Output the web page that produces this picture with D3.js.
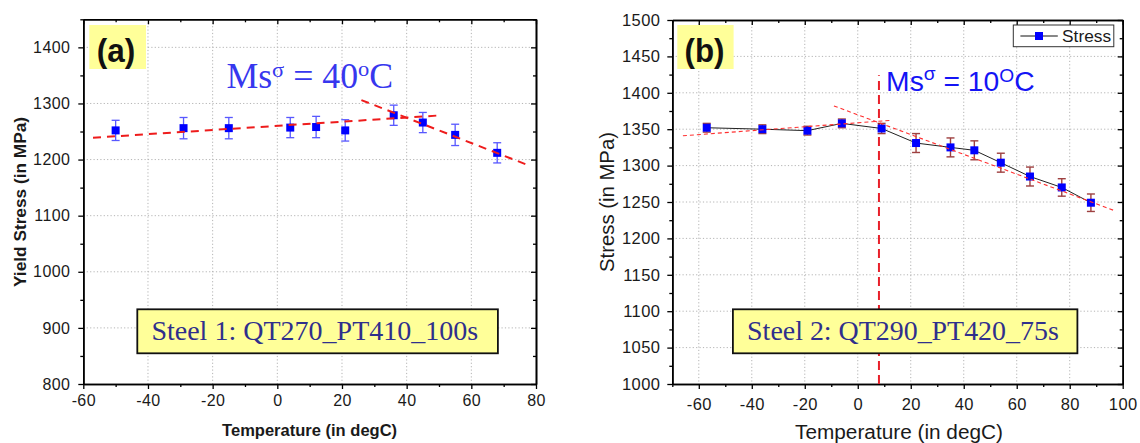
<!DOCTYPE html>
<html>
<head>
<meta charset="utf-8">
<script src="https://cdn.jsdelivr.net/npm/d3@7"></script>
<style>
  body { margin: 0; background: #fff; }
  svg { display: block; }
</style>
</head>
<body>
<svg id="fig" width="1140" height="443"></svg>
<script>
// ---- Panel (a): Steel 1, QT270_PT410_100s ----
const tempA   = [-50, -29, -15, 4, 12, 21, 36, 45, 55, 68];
const stressA = [1252, 1256, 1256, 1257, 1258, 1252, 1279, 1266, 1244, 1212];
const errA    = [18, 19, 19, 18, 19, 19, 18, 18, 19, 18];
// two linear trends meeting near Ms
const fitA1T = [-57, 51],  fitA1S = [1239, 1279];
const fitA2T = [26, 78],   fitA2S = [1306, 1189];
const xTicksA = [-60, -40, -20, 0, 20, 40, 60, 80];
const xMinorA = [-50, -30, -10, 10, 30, 50, 70];
const yTicksA = [800, 900, 1000, 1100, 1200, 1300, 1400];
const yMinorA = [850, 950, 1050, 1150, 1250, 1350, 1450];

// ---- Panel (b): Steel 2, QT290_PT420_75s ----
const tempB   = [-57, -36, -19, -6, 9, 22, 35, 44, 54, 65, 77, 88];
const stressB = [1352, 1350, 1348, 1358, 1351, 1331, 1325, 1321, 1304, 1285, 1270, 1249];
const errB    = [6, 6, 6, 6, 7, 13, 13, 13, 13, 13, 12, 12];
const fitB1T = [-66, 12],  fitB1S = [1341, 1362];
const fitB2T = [-9, 97],   fitB2S = [1382, 1238];
const msB = 8, msLineS = [1000, 1424];
const xTicksB = [-60, -40, -20, 0, 20, 40, 60, 80, 100];
const xMinorB = [-70, -50, -30, -10, 10, 30, 50, 70, 90];
const yTicksB = [1000, 1050, 1100, 1150, 1200, 1250, 1300, 1350, 1400, 1450, 1500];
const yMinorB = [1025, 1075, 1125, 1175, 1225, 1275, 1325, 1375, 1425, 1475];

const svg = d3.select("#fig");
const SANS = "'Liberation Sans', Arial, sans-serif";
const SERIF = "'Liberation Serif', 'Times New Roman', serif";
const plain = d => String(d);   // "-60", "1400": hyphen minus, no grouping

// stretch a text element horizontally so that it spans `width` px from x
function fitText(sel, x, baseline, width) {
  sel.attr("transform", `translate(${x},${baseline})`);
  const w = sel.node().getBBox().width;
  sel.attr("transform", `translate(${x},${baseline}) scale(${width / w},1)`);
}

function makePanel(p) {
  const x = d3.scaleLinear().domain(p.xDomain).range([p.left, p.right]);
  const y = d3.scaleLinear().domain(p.yDomain).range([p.bottom, p.top]);
  const g = svg.append("g");

  // dotted grid at major ticks
  const grid = g.append("g").attr("stroke", "#b4b4b4").attr("stroke-width", 1)
    .attr("stroke-dasharray", "1.2,2.2");
  grid.selectAll(".gx").data(p.xTicks.filter(t => t > p.xDomain[0] && t < p.xDomain[1]))
    .join("line").attr("x1", d => x(d)).attr("x2", d => x(d))
    .attr("y1", p.top).attr("y2", p.bottom);
  grid.selectAll(".gy").data(p.yTicks.filter(t => t > p.yDomain[0] && t < p.yDomain[1]))
    .join("line").attr("y1", d => y(d)).attr("y2", d => y(d))
    .attr("x1", p.left).attr("x2", p.right);

  // axes: ticks outward on bottom/left, inward on top/right
  const styleAxis = a => {
    a.select(".domain").attr("stroke", "#000").attr("stroke-width", 1.6);
    a.selectAll(".tick line").attr("stroke", "#000").attr("stroke-width", 1.3);
    a.selectAll(".tick text").attr("fill", "#1a1a1a")
      .attr("font-family", SANS).attr("font-size", p.tickFont)
      .attr("letter-spacing", "0.4px");
  };
  const ax = [
    [d3.axisBottom(x).tickValues(p.xTicks).tickFormat(plain).tickSize(5).tickPadding(p.xPad), `0,${p.bottom}`],
    [d3.axisBottom(x).tickValues(p.xMinor).tickSize(3).tickFormat(""), `0,${p.bottom}`],
    [d3.axisTop(x).tickValues(p.xTicks).tickSize(-5).tickFormat(""), `0,${p.top}`],
    [d3.axisTop(x).tickValues(p.xMinor).tickSize(-3).tickFormat(""), `0,${p.top}`],
    [d3.axisLeft(y).tickValues(p.yTicks).tickFormat(plain).tickSize(5).tickPadding(p.yPad), `${p.left},0`],
    [d3.axisLeft(y).tickValues(p.yMinor).tickSize(3).tickFormat(""), `${p.left},0`],
    [d3.axisRight(y).tickValues(p.yTicks).tickSize(-5).tickFormat(""), `${p.right},0`],
    [d3.axisRight(y).tickValues(p.yMinor).tickSize(-3).tickFormat(""), `${p.right},0`]
  ];
  ax.forEach(([a, tr]) => {
    g.append("g").attr("transform", `translate(${tr})`)
      .call(a.tickSizeOuter(0)).call(styleAxis);
  });
  return { x, y, g };
}

// ================= Panel (a) =================
const A = makePanel({
  xDomain: [-60, 80], yDomain: [800, 1450],
  left: 83.3, right: 536, top: 19.3, bottom: 384,
  xTicks: xTicksA, xMinor: xMinorA, yTicks: yTicksA, yMinor: yMinorA,
  tickFont: 16, xPad: 6, yPad: 8
});
{
  const { x, y, g } = A;
  const pts = tempA.map((t, i) => ({ t, s: stressA[i], e: errA[i] }));
  // error bars
  const eb = g.append("g").attr("stroke", "#3b3bff").attr("stroke-width", 1.3).attr("opacity", 0.85);
  pts.forEach(d => {
    eb.append("line").attr("x1", x(d.t)).attr("x2", x(d.t)).attr("y1", y(d.s - d.e)).attr("y2", y(d.s + d.e));
    eb.append("line").attr("x1", x(d.t) - 4).attr("x2", x(d.t) + 4).attr("y1", y(d.s + d.e)).attr("y2", y(d.s + d.e));
    eb.append("line").attr("x1", x(d.t) - 4).attr("x2", x(d.t) + 4).attr("y1", y(d.s - d.e)).attr("y2", y(d.s - d.e));
  });
  g.append("g").selectAll("rect").data(pts).join("rect")
    .attr("x", d => x(d.t) - 4).attr("y", d => y(d.s) - 4)
    .attr("width", 8).attr("height", 8).attr("fill", "#0000ff");
  // trend lines
  const line = d3.line().x(d => x(d[0])).y(d => y(d[1]));
  [[fitA1T, fitA1S], [fitA2T, fitA2S]].forEach(([T, S]) => {
    g.append("path").attr("d", line(T.map((t, i) => [t, S[i]])))
      .attr("fill", "none").attr("stroke", "#ee1c1c").attr("stroke-width", 2)
      .attr("stroke-dasharray", "8,6");
  });

  // panel tag
  g.append("rect").attr("x", 89.3).attr("y", 25).attr("width", 56.7).attr("height", 44).attr("fill", "#ffff99");
  const tagA = g.append("text").attr("font-family", SANS).attr("font-weight", "bold")
    .attr("font-size", 34).attr("fill", "#111").text("(a)");
  fitText(tagA, 96.7, 62, 38.5);

  // Ms annotation
  const ms = g.append("text").attr("font-family", SERIF).attr("font-size", 35).attr("fill", "#3737ee");
  ms.append("tspan").text("Ms");
  ms.append("tspan").attr("font-size", 22).attr("dy", -11).text("σ");
  ms.append("tspan").attr("dy", 11).text("\u00A0=\u00A040");
  ms.append("tspan").attr("font-size", 22).attr("dy", -12).text("o");
  ms.append("tspan").attr("dy", 12).text("C");
  fitText(ms, 226.4, 88.3, 166.8);

  // steel label
  g.append("rect").attr("x", 137.3).attr("y", 309.3).attr("width", 360.6).attr("height", 44)
    .attr("fill", "#ffff99").attr("stroke", "#111").attr("stroke-width", 1.8);
  const lab = g.append("text").attr("font-family", SERIF).attr("font-size", 27).attr("fill", "#2f2f8c")
    .text("Steel 1: QT270_PT410_100s");
  fitText(lab, 151.4, 340, 327);

  // axis titles
  g.append("text").attr("font-family", SANS).attr("font-weight", "bold").attr("font-size", 16)
    .attr("fill", "#1a1a1a").attr("text-anchor", "middle")
    .attr("x", 309.6).attr("y", 436).attr("textLength", 175).attr("lengthAdjust", "spacingAndGlyphs")
    .text("Temperature (in degC)");
  g.append("text").attr("font-family", SANS).attr("font-weight", "bold").attr("font-size", 16)
    .attr("fill", "#1a1a1a").attr("text-anchor", "middle")
    .attr("transform", "translate(25.5,202) rotate(-90)")
    .attr("textLength", 170).attr("lengthAdjust", "spacingAndGlyphs")
    .text("Yield Stress (in MPa)");
}

// ================= Panel (b) =================
const B = makePanel({
  xDomain: [-70, 100], yDomain: [1000, 1500],
  left: 672.3, right: 1122.7, top: 20, bottom: 384,
  xTicks: xTicksB, xMinor: xMinorB, yTicks: yTicksB, yMinor: yMinorB,
  tickFont: 16.5, xPad: 9, yPad: 7
});
{
  const { x, y, g } = B;
  const pts = tempB.map((t, i) => ({ t, s: stressB[i], e: errB[i] }));
  const line = d3.line().x(d => x(d[0])).y(d => y(d[1]));

  // Ms vertical marker
  g.append("path").attr("d", line([[msB, msLineS[0]], [msB, msLineS[1]]]))
    .attr("stroke", "#e8202a").attr("stroke-width", 2).attr("stroke-dasharray", "9,5").attr("fill", "none");

  // connecting line
  g.append("path").attr("d", line(pts.map(d => [d.t, d.s])))
    .attr("fill", "none").attr("stroke", "#222").attr("stroke-width", 1);

  // error bars
  const eb = g.append("g").attr("stroke", "#8e1f1f").attr("stroke-width", 1.4).attr("opacity", 0.85);
  pts.forEach(d => {
    eb.append("line").attr("x1", x(d.t)).attr("x2", x(d.t)).attr("y1", y(d.s - d.e)).attr("y2", y(d.s + d.e));
    eb.append("line").attr("x1", x(d.t) - 4).attr("x2", x(d.t) + 4).attr("y1", y(d.s + d.e)).attr("y2", y(d.s + d.e));
    eb.append("line").attr("x1", x(d.t) - 4).attr("x2", x(d.t) + 4).attr("y1", y(d.s - d.e)).attr("y2", y(d.s - d.e));
  });
  g.append("g").selectAll("rect").data(pts).join("rect")
    .attr("x", d => x(d.t) - 4).attr("y", d => y(d.s) - 4)
    .attr("width", 8).attr("height", 8).attr("fill", "#0000ff");

  // trend lines
  [[fitB1T, fitB1S], [fitB2T, fitB2S]].forEach(([T, S]) => {
    g.append("path").attr("d", line(T.map((t, i) => [t, S[i]])))
      .attr("fill", "none").attr("stroke", "#ff3030").attr("stroke-width", 1.1)
      .attr("stroke-dasharray", "4,3");
  });

  // legend
  g.append("rect").attr("x", 1013.3).attr("y", 25).attr("width", 100.5).attr("height", 21.7)
    .attr("fill", "#fff").attr("stroke", "#333").attr("stroke-width", 1);
  g.append("line").attr("x1", 1020.4).attr("x2", 1057.8).attr("y1", 36).attr("y2", 36)
    .attr("stroke", "#111").attr("stroke-width", 1);
  g.append("rect").attr("x", 1035).attr("y", 32).attr("width", 8).attr("height", 8).attr("fill", "#0000ff");
  const lg = g.append("text").attr("font-family", SANS).attr("font-size", 16).attr("fill", "#1a1a1a").text("Stress");
  fitText(lg, 1062.1, 42, 49);

  // panel tag
  g.append("rect").attr("x", 677.3).attr("y", 25).attr("width", 56.3).attr("height", 44).attr("fill", "#ffff99");
  const tagB = g.append("text").attr("font-family", SANS).attr("font-weight", "bold")
    .attr("font-size", 34).attr("fill", "#111").text("(b)");
  fitText(tagB, 684.5, 62, 40);

  // Ms annotation
  const ms = g.append("text").attr("font-family", SANS).attr("font-size", 28).attr("fill", "#1414f5");
  ms.append("tspan").text("Ms");
  ms.append("tspan").attr("font-size", 19).attr("dy", -11).text("σ");
  ms.append("tspan").attr("dy", 11).text("\u00A0=\u00A010");
  ms.append("tspan").attr("font-size", 19).attr("dy", -9).text("O");
  ms.append("tspan").attr("dy", 9).text("C");
  fitText(ms, 886.1, 90.7, 148.6);

  // steel label
  g.append("rect").attr("x", 732.9).attr("y", 309.3).attr("width", 344.5).attr("height", 44)
    .attr("fill", "#ffff99").attr("stroke", "#111").attr("stroke-width", 1.8);
  const lab = g.append("text").attr("font-family", SERIF).attr("font-size", 27).attr("fill", "#2f2f8c")
    .text("Steel 2: QT290_PT420_75s");
  fitText(lab, 747.1, 340, 311.8);

  // axis titles
  g.append("text").attr("font-family", SANS).attr("font-size", 20)
    .attr("fill", "#1a1a1a").attr("text-anchor", "middle")
    .attr("x", 899).attr("y", 439).attr("textLength", 208).attr("lengthAdjust", "spacingAndGlyphs")
    .text("Temperature (in degC)");
  g.append("text").attr("font-family", SANS).attr("font-size", 20)
    .attr("fill", "#1a1a1a").attr("text-anchor", "middle")
    .attr("transform", "translate(614,202) rotate(-90)")
    .attr("textLength", 140).attr("lengthAdjust", "spacingAndGlyphs")
    .text("Stress (in MPa)");
}
</script>
</body>
</html>
